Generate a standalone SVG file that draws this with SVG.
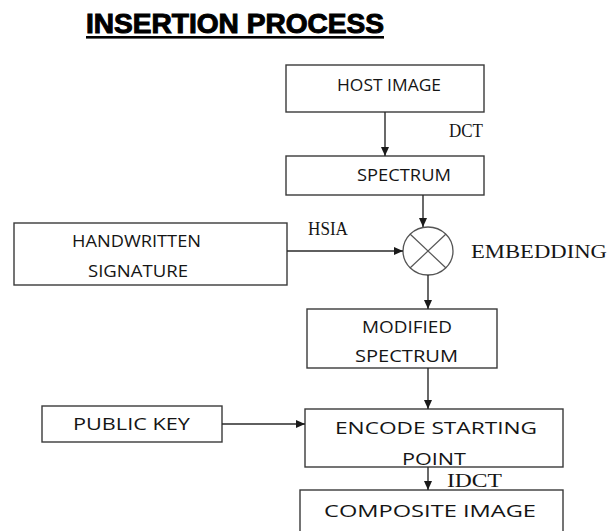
<svg xmlns="http://www.w3.org/2000/svg" width="609" height="531" viewBox="0 0 609 531">
<style>
.box{fill:#fff;stroke:#3a3a3a;stroke-width:1.4}
.lbl{font-family:"Open Sans","Noto Sans","Liberation Sans",sans-serif;font-size:17px;fill:#151515}
.ser{font-family:"Liberation Serif","Times New Roman",serif;font-size:18px;fill:#151515}
.con{fill:none;stroke:#2a2a2a;stroke-width:1.4}
</style>
<defs>
<marker id="ah" markerUnits="userSpaceOnUse" markerWidth="10" markerHeight="8" refX="9" refY="4" orient="auto">
<path d="M0,0 L9,4 L0,8 z" fill="#1a1a1a"/>
</marker>
</defs>
<rect width="609" height="531" fill="#fff"/>
<g id="title">
<text x="86" y="33" font-family="'Liberation Sans',Arial,sans-serif" font-weight="bold" font-size="27" fill="#000" stroke="#000" stroke-width="1" textLength="298" lengthAdjust="spacingAndGlyphs">INSERTION PROCESS</text>
<rect x="86" y="36" width="298" height="2.6" fill="#000"/>
</g>
<g id="host-image">
<rect class="box" x="286" y="65" width="198" height="47"/>
<text class="lbl" x="337" y="91" textLength="104" lengthAdjust="spacingAndGlyphs">HOST IMAGE</text>
</g>
<g id="spectrum">
<rect class="box" x="286" y="156" width="198" height="39"/>
<text class="lbl" x="357" y="181" textLength="94" lengthAdjust="spacingAndGlyphs">SPECTRUM</text>
</g>
<g id="handwritten-signature">
<rect class="box" x="14" y="223" width="273" height="62"/>
<text class="lbl" x="72" y="247" textLength="129" lengthAdjust="spacingAndGlyphs">HANDWRITTEN</text>
<text class="lbl" x="88" y="277" textLength="100" lengthAdjust="spacingAndGlyphs">SIGNATURE</text>
</g>
<g id="embedding">
<ellipse cx="428" cy="251" rx="25" ry="24" fill="#fff" stroke="#555" stroke-width="1.3"/>
<line x1="410" y1="234" x2="446" y2="268" stroke="#555" stroke-width="1.2"/>
<line x1="446" y1="234" x2="410" y2="268" stroke="#555" stroke-width="1.2"/>
<text class="ser" x="471" y="258" font-size="19" textLength="136" lengthAdjust="spacingAndGlyphs">EMBEDDING</text>
</g>
<g id="modified-spectrum">
<rect class="box" x="307" y="309" width="190" height="59"/>
<text class="lbl" x="362" y="333" textLength="90" lengthAdjust="spacingAndGlyphs">MODIFIED</text>
<text class="lbl" x="355" y="362" textLength="103" lengthAdjust="spacingAndGlyphs">SPECTRUM</text>
</g>
<g id="public-key">
<rect class="box" x="42" y="406" width="180" height="36"/>
<text class="lbl" x="73" y="430" textLength="117" lengthAdjust="spacingAndGlyphs">PUBLIC KEY</text>
</g>
<g id="encode-starting-point">
<rect class="box" x="305" y="409" width="258" height="58"/>
<text class="lbl" x="335" y="434" textLength="202" lengthAdjust="spacingAndGlyphs">ENCODE STARTING</text>
<text class="lbl" x="402" y="465" textLength="64" lengthAdjust="spacingAndGlyphs">POINT</text>
</g>
<g id="composite-image">
<rect class="box" x="300" y="490" width="263" height="50"/>
<text class="lbl" x="324" y="517" textLength="212" lengthAdjust="spacingAndGlyphs">COMPOSITE IMAGE</text>
</g>
<g id="connectors">
<line class="con" x1="385" y1="112" x2="385" y2="156" marker-end="url(#ah)"/>
<text class="ser" x="449" y="137" textLength="34" lengthAdjust="spacingAndGlyphs">DCT</text>
<line class="con" x1="423" y1="195" x2="423" y2="227" marker-end="url(#ah)"/>
<line class="con" x1="287" y1="251" x2="403" y2="251" marker-end="url(#ah)"/>
<text class="ser" x="308" y="235" textLength="40" lengthAdjust="spacingAndGlyphs">HSIA</text>
<line class="con" x1="428" y1="275" x2="428" y2="309" marker-end="url(#ah)"/>
<line class="con" x1="428" y1="368" x2="428" y2="409" marker-end="url(#ah)"/>
<line class="con" x1="222" y1="424" x2="305" y2="424" marker-end="url(#ah)"/>
<line class="con" x1="428" y1="467" x2="428" y2="490" marker-end="url(#ah)"/>
<text class="ser" x="447" y="487" textLength="55" lengthAdjust="spacingAndGlyphs">IDCT</text>
</g>
</svg>
